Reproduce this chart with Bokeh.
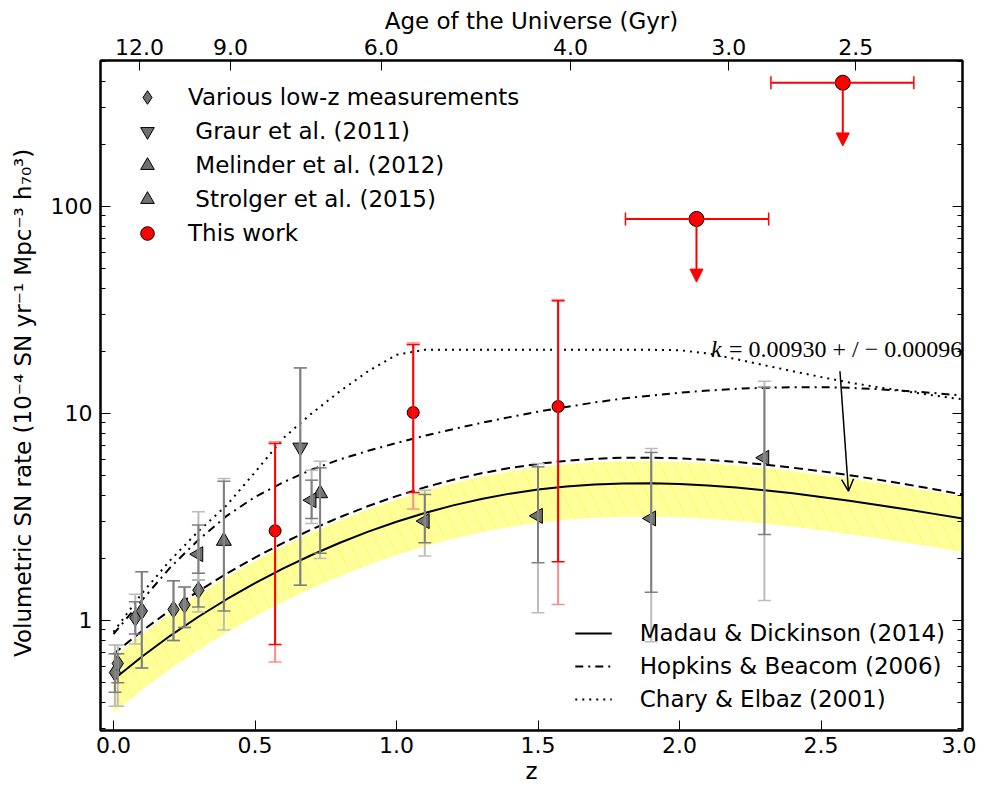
from bokeh.plotting import figure
from bokeh.models import (ColumnDataSource, Range1d, FixedTicker, LinearAxis, LogAxis,
                          Legend, LegendItem, Whisker, TeeHead, Arrow, NormalHead, OpenHead,
                          PrintfTickFormatter, BasicTickFormatter)
from bokeh.core.properties import value
from bokeh.embed import file_html
from bokeh.resources import INLINE

# ---------------- data ----------------
z_model = [0.0, 0.1, 0.2, 0.3, 0.4, 0.5, 0.6, 0.7, 0.8, 0.9, 1.0, 1.1, 1.2, 1.3, 1.4, 1.5,
           1.6, 1.7, 1.8, 1.9, 2.0, 2.1, 2.2, 2.3, 2.4, 2.5, 2.6, 2.7, 2.8, 2.9, 3.0]
madau = [0.518, 0.668, 0.843, 1.042, 1.266, 1.513, 1.783, 2.071, 2.373, 2.685, 2.998, 3.305,
         3.597, 3.864, 4.098, 4.291, 4.440, 4.541, 4.593, 4.599, 4.562, 4.489, 4.386, 4.258,
         4.111, 3.952, 3.785, 3.614, 3.442, 3.272, 3.106]
dashed_upper = [0.689, 0.888, 1.121, 1.386, 1.684, 2.013, 2.371, 2.754, 3.156, 3.571, 3.987,
                4.396, 4.784, 5.139, 5.450, 5.707, 5.905, 6.040, 6.109, 6.117, 6.067, 5.970,
                5.833, 5.663, 5.468, 5.256, 5.034, 4.790, 4.550, 4.300, 4.060]
band_high = [0.663, 0.855, 1.079, 1.334, 1.620, 1.937, 2.282, 2.651, 3.037, 3.437, 3.837,
             4.230, 4.604, 4.946, 5.245, 5.492, 5.683, 5.812, 5.879, 5.887, 5.839, 5.746,
             5.614, 5.450, 5.262, 5.059, 4.845, 4.626, 4.406, 4.188, 3.976]
band_low = [0.357, 0.461, 0.582, 0.719, 0.874, 1.044, 1.230, 1.429, 1.637, 1.853, 2.069,
            2.280, 2.482, 2.666, 2.828, 2.961, 3.064, 3.133, 3.169, 3.173, 3.148, 3.097,
            3.026, 2.938, 2.837, 2.727, 2.612, 2.494, 2.375, 2.258, 2.143]
hopkins = [0.86, 1.25, 1.80, 2.45, 3.20, 3.95, 4.65, 5.35, 6.00, 6.60, 7.20, 7.80, 8.40,
           9.00, 9.60, 10.20, 10.75, 11.30, 11.80, 12.20, 12.60, 12.90, 13.15, 13.30, 13.40,
           13.40, 13.30, 13.10, 12.85, 12.55, 12.20]
chary = [0.88, 1.35, 1.95, 2.70, 3.60, 5.20, 7.60, 10.0, 12.8, 16.0, 19.2, 20.3, 20.3, 20.3,
         20.3, 20.3, 20.3, 20.3, 20.3, 20.3, 20.2, 19.5, 18.3, 17.1, 16.0, 15.0, 14.1, 13.4,
         12.8, 12.2, 11.7]

lowz_z = [0.005, 0.015, 0.077, 0.100, 0.212, 0.251, 0.300]
lowz_rate = [0.56, 0.62, 1.03, 1.11, 1.13, 1.19, 1.40]
lowz_stat_lo = [0.45, 0.50, 0.86, 0.59, 0.80, 0.925, 1.16]
lowz_stat_hi = [0.69, 0.69, 1.23, 1.72, 1.555, 1.45, 1.57]
lowz_sys_lo = [0.385, 0.385, 0.77, 0.59, 0.80, 0.925, 1.10]
lowz_sys_hi = [0.76, 0.76, 1.34, 1.72, 1.555, 1.45, 1.69]

graur_z = [0.66]
graur_rate = [6.85]
graur_stat_lo = [1.48]
graur_stat_hi = [16.6]
graur_sys_lo = [1.48]
graur_sys_hi = [16.6]

melinder_z = [0.39, 0.73]
melinder_rate = [2.42, 4.11]
melinder_stat_lo = [1.11, 2.11]
melinder_stat_hi = [4.70, 5.46]
melinder_sys_lo = [0.90, 1.99]
melinder_sys_hi = [4.85, 5.88]

strolger_z = [0.30, 0.70, 1.10, 1.50, 1.90, 2.30]
strolger_rate = [2.09, 3.81, 3.02, 3.20, 3.11, 6.11]
strolger_stat_lo = [1.69, 3.11, 2.37, 1.90, 1.37, 2.60]
strolger_stat_hi = [2.89, 4.76, 4.06, 5.52, 6.48, 13.4]
strolger_sys_lo = [1.57, 2.94, 2.05, 1.09, 0.79, 1.25]
strolger_sys_hi = [3.35, 5.32, 4.26, 5.73, 6.77, 14.3]

this_z = [0.571, 1.059, 1.571]
this_rate = [2.71, 10.1, 10.8]
this_stat_lo = [0.765, 4.15, 1.92]
this_stat_hi = [7.16, 21.5, 35.0]
this_sys_lo = [0.63, 3.45, 1.195]
this_sys_hi = [7.30, 21.9, 35.5]

limit_z = [2.06, 2.577]
limit_rate = [87.0, 396.0]
limit_z_lo = [1.809, 2.323]
limit_z_hi = [2.315, 2.828]
limit_arrow_end = [43.1, 196.0]

x_ticks = [0.0, 0.5, 1.0, 1.5, 2.0, 2.5, 3.0]
y_ticks = [1, 10, 100]
y_minor = [0.3, 0.4, 0.5, 0.6, 0.7, 0.8, 0.9, 2, 3, 4, 5, 6, 7, 8, 9,
           20, 30, 40, 50, 60, 70, 80, 90, 200, 300, 400, 500]
age_tick_z = [0.092, 0.413, 0.946, 1.615, 2.174, 2.623]
age_tick_labels = ["12.0", "9.0", "6.0", "4.0", "3.0", "2.5"]

annot_text_pos = (2.111, 20.4)
annot_arrow = (2.567, 16.0, 2.597, 4.21)

# ---------------- figure ----------------
FONT = "DejaVu Sans"
FS = "22px"
LFS = "23px"

p = figure(width=976, height=786, output_backend="svg", toolbar_location=None,
           x_range=Range1d(-0.046, 3.0), y_range=Range1d(0.294, 507),
           y_axis_type="log",
           min_border_left=100, min_border_right=14, min_border_top=60, min_border_bottom=56)
p.background_fill_color = "white"
p.border_fill_color = "white"
p.outline_line_color = "black"
p.outline_line_width = 2
p.xgrid.visible = False
p.ygrid.visible = False

def style_axis(ax):
    ax.axis_line_color = "black"
    ax.axis_line_width = 2
    ax.major_tick_in = 10
    ax.major_tick_out = 0
    ax.minor_tick_in = 5
    ax.minor_tick_out = 0
    ax.major_tick_line_color = "black"
    ax.major_tick_line_width = 1
    ax.minor_tick_line_color = "black"
    ax.major_label_text_font = FONT
    ax.major_label_text_font_size = FS
    ax.major_label_text_color = "black"
    ax.axis_label_text_font = FONT
    ax.axis_label_text_font_size = LFS
    ax.axis_label_text_font_style = "normal"
    ax.axis_label_text_color = "black"

xa = p.xaxis[0]
style_axis(xa)
xa.ticker = FixedTicker(ticks=x_ticks)
xa.formatter = PrintfTickFormatter(format="%.1f")
xa.minor_tick_line_color = None
xa.axis_label = "z"
xa.major_label_standoff = 6
xa.axis_label_standoff = 2

ya = p.yaxis[0]
style_axis(ya)
ya.ticker = FixedTicker(ticks=y_ticks, minor_ticks=y_minor)
ya.formatter = BasicTickFormatter()
ya.axis_label = "Volumetric SN rate (10\u207b\u2074 SN  yr\u207b\u00b9  Mpc\u207b\u00b3 h\u2087\u2080\u00b3)"
ya.major_label_standoff = 8
ya.axis_label_standoff = 12

ra = LogAxis(ticker=FixedTicker(ticks=y_ticks, minor_ticks=y_minor))
style_axis(ra)
ra.major_label_text_font_size = "1px"
ra.major_label_text_color = None
ra.major_label_standoff = 0
p.add_layout(ra, "right")

ta = LinearAxis(ticker=FixedTicker(ticks=age_tick_z),
                major_label_overrides={z: lab for z, lab in zip(age_tick_z, age_tick_labels)})
style_axis(ta)
ta.minor_tick_line_color = None
ta.axis_label = "Age of the Universe (Gyr)"
ta.major_label_standoff = 6
ta.axis_label_standoff = 2
p.add_layout(ta, "above")

# ---------------- model curves ----------------
p.varea(x=z_model, y1=band_low, y2=band_high, fill_color="yellow", fill_alpha=0.4,
        hatch_pattern="\\", hatch_color="#f2e600", hatch_alpha=0.3, hatch_scale=28,
        hatch_weight=0.8)
r_md = p.line(z_model, madau, line_color="black", line_width=2)
p.line(z_model, dashed_upper, line_color="black", line_width=2, line_dash="9 5")
r_hb = p.line(z_model, hopkins, line_color="black", line_width=2, line_dash="8 5 2 5")
r_ce = p.line(z_model, chary, line_color="black", line_width=2, line_dash="2 5")

# ---------------- data points ----------------
GRAY_STAT = "#7f7f7f"
GRAY_SYS = "#bcbcbc"
MARK_FILL = "#707070"

def errbars(z, lo_stat, hi_stat, lo_sys, hi_sys, c_stat, c_sys):
    src_sys = ColumnDataSource(dict(z=z, lo=lo_sys, hi=hi_sys))
    src_stat = ColumnDataSource(dict(z=z, lo=lo_stat, hi=hi_stat))
    for src, col in ((src_sys, c_sys), (src_stat, c_stat)):
        w = Whisker(source=src, base="z", lower="lo", upper="hi", dimension="height",
                    line_color=col, line_width=2, level="glyph",
                    upper_head=TeeHead(size=13, line_color=col, line_width=1.5),
                    lower_head=TeeHead(size=13, line_color=col, line_width=1.5))
        p.add_layout(w)

errbars(lowz_z, lowz_stat_lo, lowz_stat_hi, lowz_sys_lo, lowz_sys_hi, GRAY_STAT, GRAY_SYS)
errbars(graur_z, graur_stat_lo, graur_stat_hi, graur_sys_lo, graur_sys_hi, GRAY_STAT, GRAY_SYS)
errbars(melinder_z, melinder_stat_lo, melinder_stat_hi, melinder_sys_lo, melinder_sys_hi, GRAY_STAT, GRAY_SYS)
errbars(strolger_z, strolger_stat_lo, strolger_stat_hi, strolger_sys_lo, strolger_sys_hi, GRAY_STAT, GRAY_SYS)
errbars(this_z, this_stat_lo, this_stat_hi, this_sys_lo, this_sys_hi, "red", "#ff8c8c")

r_low = p.scatter(lowz_z, lowz_rate, marker="diamond", size=17, fill_color=MARK_FILL,
                  line_color="black", line_width=1)
r_gr = p.scatter(graur_z, graur_rate, marker="inverted_triangle", size=15, fill_color=MARK_FILL,
                 line_color="black", line_width=1)
r_mel = p.scatter(melinder_z, melinder_rate, marker="triangle", size=15, fill_color=MARK_FILL,
                  line_color="black", line_width=1)
r_str = p.scatter(strolger_z, strolger_rate, marker="triangle", angle=1.5708, size=15,
                  fill_color=MARK_FILL, line_color="black", line_width=1)

# upper limits
lim_src = ColumnDataSource(dict(z=limit_z, rate=limit_rate, zlo=limit_z_lo, zhi=limit_z_hi,
                                end=limit_arrow_end))
p.add_layout(Whisker(source=lim_src, base="rate", lower="zlo", upper="zhi", dimension="width",
                     line_color="red", line_width=2, level="glyph",
                     upper_head=TeeHead(size=13, line_color="red", line_width=1.5),
                     lower_head=TeeHead(size=13, line_color="red", line_width=1.5)))
p.add_layout(Arrow(source=lim_src, x_start="z", y_start="rate", x_end="z", y_end="end",
                   line_color="red", line_width=2, level="glyph",
                   end=NormalHead(size=13, fill_color="red", line_color="red")))

r_this = p.scatter(this_z, this_rate, marker="circle", size=12, fill_color="red",
                   line_color="black", line_width=1)
p.scatter(limit_z, limit_rate, marker="circle", size=15, fill_color="red",
          line_color="black", line_width=1)

# annotation (text glyphs + arrow)
p.text(x=[annot_text_pos[0]], y=[annot_text_pos[1]], text=["k"],
       text_font=value("Liberation Serif"), text_font_style="italic",
       text_font_size="24px", text_baseline="middle", text_align="left", text_color="black")
p.text(x=[annot_text_pos[0]], y=[annot_text_pos[1]], x_offset=18,
       text=["= 0.00930 + / \u2212 0.00096"],
       text_font=value("Liberation Serif"), text_font_size="24px",
       text_baseline="middle", text_align="left", text_color="black")
p.add_layout(Arrow(x_start=annot_arrow[0], y_start=annot_arrow[1],
                   x_end=annot_arrow[2], y_end=annot_arrow[3],
                   line_color="black", line_width=1.5,
                   end=OpenHead(size=12, line_color="black", line_width=1.5)))

# ---------------- legends ----------------
leg1 = Legend(items=[
    LegendItem(label="Various low-z measurements", renderers=[r_low]),
    LegendItem(label=" Graur et al. (2011)", renderers=[r_gr]),
    LegendItem(label=" Melinder et al. (2012)", renderers=[r_mel]),
    LegendItem(label=" Strolger et al. (2015)", renderers=[r_str]),
    LegendItem(label="This work", renderers=[r_this]),
], location="top_left", margin=20, padding=10, glyph_width=54, glyph_height=34,
    spacing=0, label_standoff=14, label_text_font=FONT, label_text_font_size=LFS,
    label_text_color="black", border_line_color=None, background_fill_alpha=0)
p.add_layout(leg1)

leg2 = Legend(items=[
    LegendItem(label="Madau & Dickinson (2014)", renderers=[r_md]),
    LegendItem(label="Hopkins & Beacom (2006)", renderers=[r_hb]),
    LegendItem(label="Chary & Elbaz (2001)", renderers=[r_ce]),
], location="bottom_right", margin=17, padding=10, glyph_width=37, glyph_height=28,
    spacing=5, label_standoff=28, label_text_font=FONT, label_text_font_size=LFS,
    label_text_color="black", border_line_color=None, background_fill_alpha=0)
p.add_layout(leg2)

open("out.html", "w").write(file_html(p, INLINE))
